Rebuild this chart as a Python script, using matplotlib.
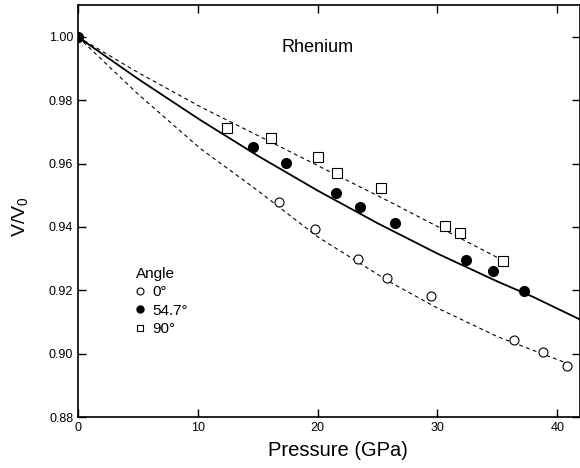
import matplotlib
matplotlib.use('Agg')
import matplotlib.pyplot as plt
from matplotlib.lines import Line2D

plt.rcParams['font.family']=['Liberation Sans','DejaVu Sans']

p_0=[0,16.8,19.8,23.4,25.8,29.5,36.4,38.8,40.8]
v_0=[1.0,0.948,0.9393,0.9299,0.9238,0.9182,0.9043,0.9006,0.8961]
p_55=[0,14.6,17.4,21.5,23.5,26.5,32.4,34.6,37.2]
v_55=[1.0,0.9653,0.9601,0.9508,0.9462,0.9413,0.9295,0.9262,0.9198]
p_90=[12.4,16.1,20.0,21.6,25.3,30.6,31.9,35.5]
v_90=[0.9713,0.968,0.9622,0.9571,0.9522,0.9404,0.9381,0.9294]

# fitted curves, read at a few pressures
fit0_p=[0,5,10.2,15,20,26,30,35,41.2]
fit0_v=[1.0,0.982,0.9648,0.9515,0.9369,0.9227,0.9144,0.9054,0.8964]
fit55_p=[0,5,10.2,15,20,25,30,35,38,42]
fit55_v=[1.0,0.9868,0.9738,0.9625,0.9515,0.9412,0.9316,0.9228,0.9179,0.9106]
fit90_p=[0,5,10.2,16.9,26,35.5]
fit90_v=[1.0,0.9888,0.978,0.9653,0.948,0.9294]

fig=plt.figure(figsize=(5.8,4.68),dpi=100)
ax=fig.add_axes([78/580,1-417/468,1-78/580,412/468])

dash=(0,(3.5,3))
ax.plot(fit0_p,fit0_v,color='k',lw=0.8,ls=dash)
ax.plot(fit55_p,fit55_v,color='k',lw=1.3)
ax.plot(fit90_p,fit90_v,color='k',lw=0.8,ls=dash)

ax.plot(p_0,v_0,'o',ms=6.5,mfc='white',mec='k',mew=0.8,ls='none')
ax.plot(p_55,v_55,'o',ms=7,mfc='k',mec='k',ls='none')
ax.plot(p_90,v_90,'s',ms=7.5,mfc='white',mec='k',mew=0.8,ls='none')

ax.set_xlim(0,41.9)
ax.set_ylim(0.88,1.0101)
ax.set_xticks([0,10,20,30,40])
ax.set_yticks([0.88,0.90,0.92,0.94,0.96,0.98,1.00])
ax.set_yticklabels(['0.88','0.90','0.92','0.94','0.96','0.98','1.00'])
ax.tick_params(direction='in',length=6,width=1,labelsize=9,top=True,right=True)
for s in ax.spines.values():
    s.set_linewidth(1.2)

ax.set_xlabel('Pressure (GPa)',fontsize=14.5)
ax.xaxis.set_label_coords((338-78)/502,-(441-417)/412)
ax.set_ylabel('V/V$_\\mathregular{0}$',fontsize=14)
ax.yaxis.set_label_coords(-(78-31)/502,(417-217)/412)
ax.text((318-78)/502,(417-48)/412,'Rhenium',transform=ax.transAxes,ha='center',va='center',fontsize=13)

handles=[Line2D([],[],marker='o',ms=5,mfc='white',mec='k',mew=0.8,ls='none'),
         Line2D([],[],marker='o',ms=5,mfc='k',mec='k',ls='none'),
         Line2D([],[],marker='s',ms=5,mfc='white',mec='k',mew=0.8,ls='none')]
leg=ax.legend(handles,['0°','54.7°','90°'],title='Angle',loc='upper left',
              bbox_to_anchor=((128-78)/502,(417-259)/412),frameon=False,fontsize=11,title_fontsize=11,
              handlelength=0.6,handletextpad=0.5,labelspacing=0.3,borderpad=0)
leg._legend_box.align='left'

fig.savefig('out.png',dpi=100)
